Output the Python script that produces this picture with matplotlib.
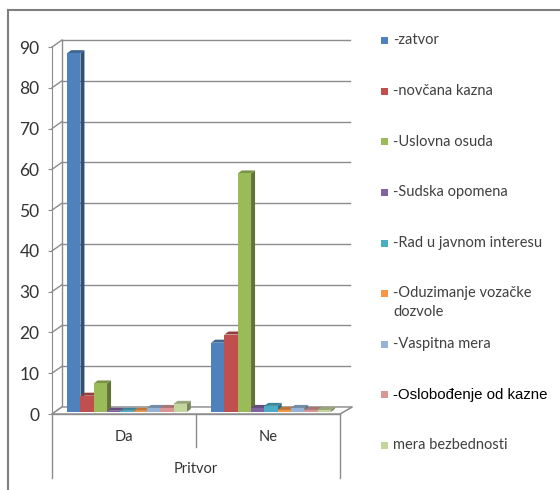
import numpy as np
import matplotlib
matplotlib.use("Agg")
import matplotlib.pyplot as plt
from matplotlib.patches import Polygon, Rectangle
from matplotlib.lines import Line2D
from matplotlib.transforms import ScaledTranslation
from matplotlib.colors import to_rgb

plt.rcParams["font.family"] = ["Lato", "DejaVu Sans"]

categories = ["Da", "Ne"]
axis_title = "Pritvor"
series = ["-zatvor", "-novčana kazna", "-Uslovna osuda", "-Sudska opomena",
          "-Rad u javnom interesu", "-Oduzimanje vozačke\ndozvole", "-Vaspitna mera",
          "-Oslobođenje od kazne", "mera bezbednosti"]
zatvor = [88, 17]
novcana = [4, 19]
uslovna = [7, 58.5]
sudska = [0.3, 1]
rad = [0.3, 1.5]
oduzimanje = [0.3, 0.5]
vaspitna = [1, 1]
oslobodjenje = [1, 0.5]
mera = [2, 0.5]
values = [zatvor, novcana, uslovna, sudska, rad, oduzimanje, vaspitna, oslobodjenje, mera]
colors = ["#4F81BD", "#C0504D", "#9BBB59", "#8064A2", "#4BACC6",
          "#F79646", "#95B3D7", "#D99694", "#C3D69B"]
yticks = list(range(0, 91, 10))

W, H, DPI = 560, 490, 100
fig = plt.figure(figsize=(W / DPI, H / DPI), dpi=DPI)
ax_l, ax_b, ax_w, ax_h = 52, 414, 288, 367  # pixels
ax = fig.add_axes([ax_l / W, 1 - ax_b / H, ax_w / W, ax_h / H])
ax.set_xlim(-0.5, 1.5)
ax.set_ylim(0, 90)
px_x = ax_w / 2.0   # pixels per x unit
px_y = ax_h / 90.0  # pixels per y unit

grey = "#8c8c8c"

def shifted(dx, dy):
    return ax.transData + ScaledTranslation(dx / DPI, dy / DPI, fig.dpi_scale_trans)

# back wall / side wall / floor
wall = shifted(10, 7)
for t in yticks:
    ax.plot([-0.5, 1.5], [t, t], color=grey, lw=1, transform=wall, zorder=1, clip_on=False)
    ax.plot([-0.5, -0.5 + 10 / px_x], [t, t + 7 / px_y], color=grey, lw=1, zorder=1, clip_on=False)
ax.plot([-0.5, -0.5], [0, 90], color=grey, lw=1, transform=wall, zorder=1, clip_on=False)
ax.plot([1.5, 1.5 + 12 / px_x], [0, 7 / px_y], color=grey, lw=1, zorder=1, clip_on=False)
floor = Polygon([(-0.5, 0), (1.5, 0), (1.5 + 12 / px_x, 7 / px_y), (-0.5 + 10 / px_x, 7 / px_y)],
                closed=True, facecolor="white", edgecolor=grey, lw=1, zorder=1.5, clip_on=False)
ax.add_patch(floor)

# bars with fake depth
n = len(series)
w = 13.3 / px_x
ddx, ddy = 4 / px_x, 3 / px_y
front = shifted(3, 2)

def shade(c, f):
    r, g, b = to_rgb(c)
    return (r * f, g * f, b * f)

z = 2
for c in range(len(categories)):
    for s in range(n):
        x0 = c - n * w / 2 + s * w
        x1 = x0 + w
        h = values[s][c]
        side = Polygon([(x1, 0), (x1, h), (x1 + ddx, h + ddy), (x1 + ddx, ddy)],
                       facecolor=shade(colors[s], 0.62), edgecolor="none", transform=front, zorder=z, clip_on=False)
        top = Polygon([(x0, h), (x1, h), (x1 + ddx, h + ddy), (x0 + ddx, h + ddy)],
                      facecolor=shade(colors[s], 0.78), edgecolor="none", transform=front, zorder=z, clip_on=False)
        ax.add_patch(side)
        ax.add_patch(top)
        ax.bar(x0, h, width=w, align="edge", color=colors[s], transform=front, zorder=z + 0.5,
               clip_on=False, edgecolor="none")
        z += 1

# front axis
for sp in ["top", "right", "bottom"]:
    ax.spines[sp].set_visible(False)
ax.spines["left"].set_color(grey)
ax.set_yticks(yticks)
ax.set_xticks([])
ax.tick_params(axis="y", length=3, color=grey, labelsize=12.5, labelcolor="#333333", pad=6)

# category area below
bt = ax.get_xaxis_transform()
ax.plot([-0.5, 1.5], [0, 0], color=grey, lw=1, zorder=3, clip_on=False)
ax.plot([-0.5, -0.5], [0, -0.174], color=grey, lw=1, transform=bt, clip_on=False)
ax.plot([1.5, 1.5], [0, -0.174], color=grey, lw=1, transform=bt, clip_on=False)
ax.plot([0.5, 0.5], [0, -0.09], color=grey, lw=1, transform=bt, clip_on=False)
for i, cat in enumerate(categories):
    ax.text(i, -0.063, cat, transform=bt, ha="center", va="center", fontsize=10.5, color="#333333")
ax.text(0.5, -0.15, axis_title, transform=bt, ha="center", va="center", fontsize=10.5, color="#333333")

# legend
for i, (lab, col) in enumerate(zip(series, colors)):
    yc = 41 + i * 50.5
    fig.add_artist(Rectangle((381 / W, 1 - (yc + 3.5) / H), 7 / W, 7 / H, facecolor=col,
                             edgecolor="none", transform=fig.transFigure))
    if lab.startswith("-Oslob"):
        fig.text(393 / W, 1 - yc / H, lab, ha="left", va="center", fontsize=10.8,
                 color="black", family=["Liberation Sans", "DejaVu Sans"])
    else:
        fig.text(393 / W, 1 - (yc - 7.5) / H, lab, ha="left", va="top", fontsize=10.5,
                 color="#404040", linespacing=1.45)

# outer border
fig.add_artist(Line2D([8 / W, 8 / W], [0, 1 - 10 / H], color="#7f7f7f", lw=1.5, transform=fig.transFigure))
fig.add_artist(Line2D([8 / W, 1], [1 - 10 / H, 1 - 10 / H], color="#7f7f7f", lw=1.5, transform=fig.transFigure))

fig.savefig("out.png", dpi=DPI)
